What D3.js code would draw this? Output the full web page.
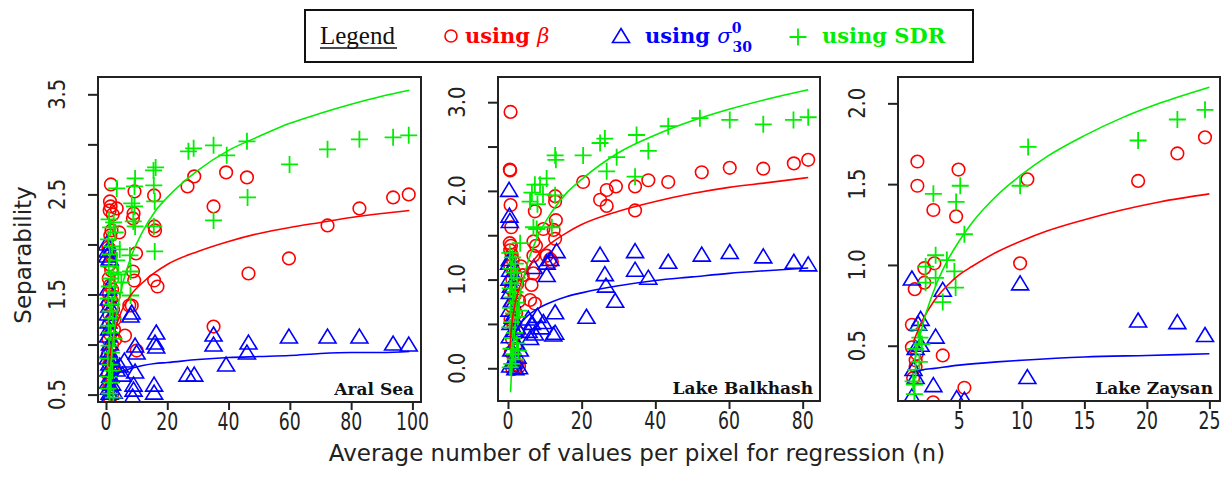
<!DOCTYPE html>
<html>
<head>
<meta charset="utf-8">
<script src="https://cdn.jsdelivr.net/npm/d3@7"></script>
<style>
  html, body { margin: 0; padding: 0; background: #fff; }
  svg { display: block; }
</style>
</head>
<body>
<svg id="chart" width="1228" height="491"></svg>
<script>
// ---------------- DATA ----------------
// Aral Sea
const aralXTicks = [0, 20, 40, 60, 80, 100];
const aralYTicks = [0.5, 1.0, 1.5, 2.0, 2.5, 3.0, 3.5];
const aralYLabels = [0.5, 1.5, 2.5, 3.5];
const aralBeta = [
  [26.6,2.58],[28.8,2.68],[39.2,2.72],[46,2.67],[35.1,2.38],[35.1,1.18],[46.5,1.71],[59.7,1.86],[72.3,2.19],[82.7,2.36],[93.7,2.47],[98.8,2.50],
  [9.3,2.53],[9.0,2.31],[8.8,2.26],[15.7,2.49],[15.8,2.18],[16.0,2.14],[15.7,1.64],[16.8,1.58],[9.8,1.91],[8.8,1.73],[9.2,1.64],[8.4,1.39],[6.2,1.09],[10,0.94],[3.5,2.36],[4.3,2.12],[7.6,1.39],
  [1.6,2.60],[1.3,2.43],[1.5,2.38],[1.2,2.34],[2.2,2.30],[1.8,2.14],[1.4,2.09],[0.8,1.97],[1.0,1.94],[1.5,1.89],[1.2,1.80],[1.7,1.74],[0.9,1.66],[1.3,1.59],[2.0,1.55],[1.0,1.50],[1.6,1.45],[0.7,1.40],[2.3,1.35],[1.1,1.30],[1.8,1.25],[0.9,1.20],[2.6,1.15],[1.4,1.10],[0.8,1.05],[2.0,1.00],[1.2,0.95],[0.6,0.90],[1.7,0.85],[1.0,0.80],[2.2,0.75],[0.7,0.70],[1.5,0.65],[1.1,0.60],[0.9,0.55],[2.0,0.50],[1.3,0.46],[3.0,1.05],[2.8,1.25],[2.5,1.48]
];
const aralSigma = [
  [8.4,1.31],[9.5,0.98],[10,0.91],[16.4,1.11],[16.0,1.01],[16.4,0.97],[35.1,1.09],[35.1,0.99],[46.5,1.01],[46,0.91],[59.7,1.07],[72.3,1.07],[82.7,1.07],[93.7,1.00],[98.8,0.99],[39.2,0.79],[26.6,0.69],[28.8,0.69],[15.7,0.59],[15.7,0.51],[9.5,0.72],[9.0,0.59],[9.0,0.54],[8.7,0.47],[5.4,0.69],[8.0,1.28],[4.5,0.78],[6.0,0.83],[3.5,0.74],
  [0.3,2.00],[0.5,1.93],[0.4,1.88],[1.2,1.85],[0.7,1.55],[0.9,1.45],[1.1,1.38],[0.6,1.30],[0.8,1.22],[1.0,1.15],[0.7,1.08],[1.3,1.00],[0.9,0.93],[0.6,0.86],[1.1,0.80],[0.8,0.74],[1.4,0.68],[0.7,0.62],[1.0,0.56],[1.2,0.51],[0.9,0.46],[2.0,0.60],[2.5,0.52],[1.8,0.85]
];
const aralSDR = [
  [26.9,2.93],[28.6,2.96],[35.1,2.99],[39.4,2.89],[46,3.03],[46.2,2.47],[35.1,2.24],[59.9,2.80],[72.3,2.95],[82.7,3.05],[93.7,3.07],[98.8,3.09],
  [15.5,2.74],[16.2,2.77],[15.6,2.59],[15.9,2.43],[15.6,2.18],[15.9,1.93],[9.5,2.66],[9.3,2.58],[9.3,2.38],[9.5,2.18],[3.5,2.56],[8.4,2.41],[8.9,2.23],[7.8,1.89],[8.0,1.73],[8.0,1.49],
  [1.0,2.25],[2.5,2.22],[1.5,2.17],[3.0,2.12],[0.8,2.05],[2.0,1.98],[1.2,1.90],[3.5,1.84],[0.9,1.78],[2.4,1.72],[1.6,1.66],[4.0,1.70],[1.1,1.58],[2.8,1.52],[0.7,1.46],[1.9,1.40],[1.3,1.33],[2.2,1.26],[0.8,1.19],[1.5,1.12],[2.6,1.06],[1.0,0.99],[1.8,0.92],[0.6,0.86],[1.3,0.80],[2.1,0.74],[0.9,0.68],[1.6,0.62],[0.7,0.56],[1.2,0.51],[2.4,0.47],[5.0,1.62],[4.5,1.95]
];
const aralFitBeta  = [[1,0.78],[1.5,0.92],[2,1.01],[3,1.15],[5,1.33],[8,1.49],[12,1.62],[16,1.72],[20,1.80],[30,1.93],[40,2.03],[50,2.11],[60,2.17],[70,2.22],[80,2.27],[90,2.31],[99,2.34]];
const aralFitSigma = [[2.5,0.68],[3,0.70],[5,0.73],[8,0.76],[12,0.79],[16,0.81],[20,0.82],[30,0.85],[40,0.87],[50,0.88],[60,0.89],[70,0.91],[80,0.92],[90,0.92],[99,0.93]];
const aralFitSDR   = [[1,0.48],[1.5,0.75],[2,0.94],[3,1.21],[5,1.55],[8,1.86],[12,2.13],[16,2.33],[20,2.47],[30,2.74],[40,2.94],[50,3.08],[60,3.21],[70,3.31],[80,3.40],[90,3.48],[99,3.54]];

// Lake Balkhash
const balkXTicks = [0, 20, 40, 60, 80];
const balkYTicks = [0.0, 0.5, 1.0, 1.5, 2.0, 2.5, 3.0];
const balkYLabels = [0.0, 1.0, 2.0, 3.0];
const balkBeta = [
  [20.4,2.10],[25.0,1.90],[26.8,2.01],[26.8,1.83],[29.3,2.05],[34.5,2.05],[38.1,2.12],[43.5,2.10],[34.5,1.78],[52.6,2.21],[60.2,2.26],[69.3,2.25],[77.6,2.31],[81.5,2.35],
  [7.3,1.77],[9.6,1.57],[12.8,1.94],[12.8,1.88],[13.0,1.67],[12.8,1.46],[12.4,1.56],[6.9,1.43],[6.9,1.27],[10.5,1.27],[11.9,1.20],[6.4,0.94],[6.0,0.77],[7.3,0.73],[6.9,1.07],[7.6,1.38],[11.5,1.23],
  [0.7,2.89],[0.5,2.24],[0.6,2.23],[0.7,1.84],[0.9,1.59],[0.5,1.41],[0.6,1.33],[0.8,1.38],[1.0,1.28],[1.3,1.22],[0.6,1.15],[1.5,1.10],[2.0,1.05],[1.2,1.00],[2.5,0.95],[0.8,0.90],[1.8,0.82],[3.0,0.76],[1.0,0.70],[2.2,0.62],[0.7,0.55],[1.5,0.48],[2.8,0.40],[1.1,0.33],[2.0,0.25],[0.8,0.18],[1.6,0.10],[2.4,0.04],[1.2,-0.01],[3.0,0.02],[2.0,0.0],[3.5,1.15],[4.0,1.05]
];
const balkSigma = [
  [13.2,1.31],[25.0,1.27],[34.5,1.31],[34.5,1.10],[26.3,1.05],[26.6,0.92],[29.1,0.75],[38.1,1.01],[43.5,1.19],[52.6,1.27],[60.2,1.30],[69.3,1.25],[77.6,1.19],[81.5,1.16],[21.3,0.57],[12.8,0.62],[12.3,0.37],[12.8,0.39],[10.5,1.04],[9.6,0.51],[7.3,0.38],[5.6,0.41],[10.5,1.18],[11.5,1.22],[8.0,0.58],[6.5,0.50],[7.0,1.13],[9.0,0.45],[5.5,0.55],[6.0,0.33],
  [0.3,2.00],[0.4,1.71],[0.5,1.65],[0.3,1.18],[0.5,1.22],[0.6,1.10],[0.4,1.00],[0.8,0.92],[0.5,0.85],[1.0,0.75],[0.4,0.65],[1.3,0.57],[0.7,0.50],[1.8,0.42],[0.5,0.35],[2.2,0.28],[0.9,0.20],[2.6,0.12],[1.4,0.06],[3.0,0.0],[0.6,0.02],[2.0,-0.01],[3.2,0.2],[2.5,0.45]
];
const balkSDR = [
  [20.4,2.40],[25.0,2.54],[26.3,2.59],[29.5,2.38],[26.8,2.22],[34.9,2.63],[34.5,2.16],[38.1,2.45],[43.5,2.73],[52.1,2.82],[60.2,2.80],[69.3,2.75],[77.5,2.80],[81.5,2.83],
  [12.8,2.40],[13.0,2.35],[12.8,1.95],[10.5,2.14],[8.7,2.07],[7.3,2.07],[6.0,1.88],[6.9,1.59],[7.8,1.57],[11.9,1.59],[3.3,1.41],[6.5,1.98],[8.0,1.85],[9.5,1.96],
  [0.5,1.30],[1.2,1.25],[2.0,1.18],[0.8,1.12],[1.6,1.08],[2.5,1.02],[1.0,0.96],[0.6,0.90],[1.9,0.86],[1.3,0.80],[2.2,0.74],[0.7,0.68],[1.5,0.62],[2.7,0.58],[1.0,0.52],[0.5,0.46],[1.8,0.40],[1.2,0.34],[2.4,0.28],[0.8,0.22],[1.5,0.16],[2.0,0.10],[1.0,0.05],[0.6,0.01],[2.8,0.20],[3.0,0.65]
];
const balkFitBeta  = [[0.5,0.22],[1,0.48],[2,0.74],[3,0.90],[5,1.09],[8,1.27],[12,1.42],[16,1.53],[20,1.62],[30,1.77],[40,1.88],[50,1.97],[60,2.04],[70,2.09],[81.5,2.15]];
const balkFitSigma = [[1.3,0.31],[2,0.40],[3,0.48],[5,0.58],[8,0.67],[12,0.75],[16,0.81],[20,0.85],[30,0.93],[40,0.99],[50,1.03],[60,1.07],[70,1.10],[81.5,1.13]];
const balkFitSDR   = [[0.7,-0.27],[1,-0.01],[1.5,0.28],[2,0.49],[3,0.78],[5,1.14],[8,1.48],[12,1.77],[16,1.98],[20,2.13],[30,2.43],[40,2.63],[50,2.79],[60,2.92],[70,3.03],[81.5,3.14]];

// Lake Zaysan
const zayXTicks = [5, 10, 15, 20, 25];
const zayYTicks = [0.5, 1.0, 1.5, 2.0];
const zayYLabels = [0.5, 1.0, 1.5, 2.0];
const zayBeta = [
  [1.64,1.64],[1.64,1.49],[2.92,1.34],[4.74,1.30],[4.93,1.59],[3.0,1.01],[2.2,0.98],[2.2,0.89],[1.43,0.85],[1.2,0.63],[1.2,0.49],[1.6,0.45],[1.5,0.41],[1.5,0.37],[3.67,0.44],[5.4,0.24],[2.9,0.15],[9.86,1.01],[10.44,1.53],[19.3,1.52],[22.44,1.69],[24.65,1.79],[1.3,0.30]
];
const zaySigma = [
  [1.2,0.91],[3.67,0.84],[9.86,0.88],[1.9,0.66],[1.7,0.63],[3.1,0.55],[1.9,0.50],[1.5,0.48],[19.3,0.65],[22.44,0.64],[24.65,0.56],[10.44,0.30],[2.92,0.25],[1.33,0.35],[1.5,0.30],[1.2,0.18],[4.79,0.17],[5.4,0.16]
];
const zaySDR = [
  [2.92,1.44],[4.74,1.39],[5.07,1.49],[5.4,1.19],[9.86,1.49],[10.5,1.73],[19.3,1.77],[22.44,1.90],[24.65,1.96],[3.1,1.06],[4.0,1.03],[4.6,0.96],[4.7,0.86],[3.67,0.77],[2.3,0.99],[3.1,0.92],[2.3,0.89],[1.84,0.55],[2.0,0.51],[1.5,0.48],[1.3,0.28],[1.4,0.26],[1.4,0.20],[1.7,0.60],[1.5,0.35],[1.8,0.40]
];
const zayFitBeta  = [[1.3,0.52],[2,0.65],[3,0.78],[4,0.87],[5,0.94],[6,0.99],[8,1.08],[10,1.15],[12,1.21],[15,1.28],[18,1.34],[21,1.39],[25,1.44]];
const zayFitSigma = [[1.5,0.34],[2,0.35],[3,0.36],[5,0.38],[8,0.40],[10,0.41],[15,0.43],[20,0.44],[25,0.45]];
const zayFitSDR   = [[1.4,0.40],[2,0.61],[3,0.85],[4,1.02],[5,1.15],[6,1.26],[8,1.43],[10,1.56],[12,1.67],[15,1.80],[18,1.91],[21,2.00],[25,2.10]];

const panelNames = ["Aral Sea", "Lake Balkhash", "Lake Zaysan"];
const xTitle = "Average number of values per pixel for regression (n)";
const yTitle = "Separability";

// ---------------- DRAWING ----------------
const RED = "#ff0000", BLUE = "#0000ff", GREEN = "#00ee00";
const svg = d3.select("#chart");

const panels = [
  { name: panelNames[0], box: {l: 98, t: 77, r: 421, b: 402}, xDom: [-2.61, 102.8], yDom: [0.426, 3.673],
    beta: aralBeta, sigma: aralSigma, sdr: aralSDR, fb: aralFitBeta, fs: aralFitSigma, fd: aralFitSDR,
    xTicks: aralXTicks, yTicks: aralYTicks, yLabels: aralYLabels },
  { name: panelNames[1], box: {l: 498, t: 77, r: 820, b: 401}, xDom: [-2.71, 84.7], yDom: [-0.369, 3.284],
    beta: balkBeta, sigma: balkSigma, sdr: balkSDR, fb: balkFitBeta, fs: balkFitSigma, fd: balkFitSDR,
    xTicks: balkXTicks, yTicks: balkYTicks, yLabels: balkYLabels },
  { name: panelNames[2], box: {l: 898, t: 77, r: 1220, b: 401}, xDom: [0.09, 25.85], yDom: [0.158, 2.163],
    beta: zayBeta, sigma: zaySigma, sdr: zaySDR, fb: zayFitBeta, fs: zayFitSigma, fd: zayFitSDR,
    xTicks: zayXTicks, yTicks: zayYTicks, yLabels: zayYLabels }
];

const triPath = "M0,-8.5L8.5,5.5L-8.5,5.5Z";
const plusPath = "M-8.5,0H8.5M0,-8.5V8.5";
const tickFont = "'DejaVu Sans', sans-serif";

panels.forEach((p, i) => {
  const x = d3.scaleLinear().domain(p.xDom).range([p.box.l, p.box.r]);
  const y = d3.scaleLinear().domain(p.yDom).range([p.box.b, p.box.t]);
  const g = svg.append("g");

  const clipId = "clip" + i;
  svg.append("defs").append("clipPath").attr("id", clipId)
    .append("rect").attr("x", p.box.l).attr("y", p.box.t)
    .attr("width", p.box.r - p.box.l).attr("height", p.box.b - p.box.t);

  const plot = g.append("g").attr("clip-path", `url(#${clipId})`);

  // points
  plot.append("g").selectAll("circle").data(p.beta).join("circle")
    .attr("cx", d => x(d[0])).attr("cy", d => y(d[1])).attr("r", 6.3)
    .attr("fill", "none").attr("stroke", RED).attr("stroke-width", 1.6);
  plot.append("g").selectAll("path").data(p.sigma).join("path")
    .attr("d", triPath).attr("transform", d => `translate(${x(d[0])},${y(d[1])})`)
    .attr("fill", "none").attr("stroke", BLUE).attr("stroke-width", 1.6);
  plot.append("g").selectAll("path").data(p.sdr).join("path")
    .attr("d", plusPath).attr("transform", d => `translate(${x(d[0])},${y(d[1])})`)
    .attr("fill", "none").attr("stroke", GREEN).attr("stroke-width", 1.8);

  // fitted curves
  const line = d3.line().x(d => x(d[0])).y(d => y(d[1])).curve(d3.curveMonotoneX);
  [[p.fb, RED], [p.fs, BLUE], [p.fd, GREEN]].forEach(([data, c]) => {
    plot.append("path").datum(data).attr("d", line)
      .attr("fill", "none").attr("stroke", c).attr("stroke-width", 1.6);
  });

  // box
  g.append("rect").attr("x", p.box.l).attr("y", p.box.t)
    .attr("width", p.box.r - p.box.l).attr("height", p.box.b - p.box.t)
    .attr("fill", "none").attr("stroke", "#222").attr("stroke-width", 2);

  // y axis
  const yAx = d3.axisLeft(y).tickValues(p.yTicks).tickSize(10).tickFormat("");
  const ya = g.append("g").attr("transform", `translate(${p.box.l},0)`).call(yAx);
  ya.select(".domain").remove();
  ya.selectAll(".tick line").attr("stroke", "#222").attr("stroke-width", 2);
  g.append("g").selectAll("text").data(p.yLabels).join("text")
    .attr("transform", d => `translate(${p.box.l - 33},${y(d)}) rotate(-90) scale(0.85,1)`)
    .attr("text-anchor", "middle")
    .attr("font-family", tickFont).attr("font-size", 23).attr("fill", "#222")
    .text(d => d3.format(".1f")(d));

  // x axis
  const xAx = d3.axisBottom(x).tickValues(p.xTicks).tickSize(8).tickFormat("");
  const xa = g.append("g").attr("transform", `translate(0,${p.box.b})`).call(xAx);
  xa.select(".domain").remove();
  xa.selectAll(".tick line").attr("stroke", "#222").attr("stroke-width", 2);
  g.append("g").selectAll("text").data(p.xTicks).join("text")
    .attr("transform", d => `translate(${x(d)},${p.box.b + 28}) scale(0.72,1)`)
    .attr("text-anchor", "middle")
    .attr("font-family", tickFont).attr("font-size", 24).attr("fill", "#222")
    .text(d => d);

  // panel name
  g.append("text")
    .attr("x", p.box.r - 7).attr("y", p.box.b - 7)
    .attr("text-anchor", "end")
    .attr("font-family", "'DejaVu Serif', serif").attr("font-weight", "bold")
    .attr("font-size", 17).attr("fill", "#111")
    .text(p.name);
});

// axis titles
svg.append("text")
  .attr("x", 637).attr("y", 461)
  .attr("text-anchor", "middle")
  .attr("font-family", tickFont).attr("font-size", 23).attr("fill", "#222")
  .text(xTitle);
svg.append("text")
  .attr("transform", "translate(31,255) rotate(-90)")
  .attr("text-anchor", "middle")
  .attr("font-family", tickFont).attr("font-size", 23).attr("fill", "#222")
  .text(yTitle);

// legend
const lg = svg.append("g");
lg.append("rect").attr("x", 305).attr("y", 10).attr("width", 668).attr("height", 52)
  .attr("fill", "#fff").attr("stroke", "#111").attr("stroke-width", 2);
lg.append("text").attr("x", 320).attr("y", 44)
  .attr("font-family", "'Liberation Serif', serif").attr("font-size", 25).attr("fill", "#111")
  .text("Legend");
lg.append("line").attr("x1", 320).attr("x2", 397).attr("y1", 48).attr("y2", 48)
  .attr("stroke", "#111").attr("stroke-width", 1.5);

lg.append("circle").attr("cx", 451).attr("cy", 36).attr("r", 6).attr("fill", "none")
  .attr("stroke", RED).attr("stroke-width", 1.6);
const t1 = lg.append("text").attr("x", 465).attr("y", 43)
  .attr("font-family", "'DejaVu Serif', serif").attr("font-size", 21).attr("font-weight", "bold").attr("fill", RED);
t1.append("tspan").text("using ");
t1.append("tspan").attr("font-weight", "normal").attr("font-style", "italic").text("β");

lg.append("path").attr("d", triPath).attr("transform", "translate(621,37)")
  .attr("fill", "none").attr("stroke", BLUE).attr("stroke-width", 1.6);
const t2 = lg.append("text").attr("x", 645).attr("y", 43)
  .attr("font-family", "'DejaVu Serif', serif").attr("font-size", 21).attr("font-weight", "bold").attr("fill", BLUE);
t2.append("tspan").text("using ");
t2.append("tspan").attr("font-weight", "normal").attr("font-style", "italic").text("σ");
t2.append("tspan").attr("font-size", 14).attr("dy", -10).text("0");
t2.append("tspan").attr("font-size", 14).attr("dx", -9).attr("dy", 19).text("30");

lg.append("path").attr("d", plusPath).attr("transform", "translate(798,37)")
  .attr("fill", "none").attr("stroke", GREEN).attr("stroke-width", 1.8);
lg.append("text").attr("x", 822).attr("y", 43)
  .attr("font-family", "'DejaVu Serif', serif").attr("font-size", 21).attr("font-weight", "bold").attr("fill", GREEN)
  .text("using SDR");
</script>
</body>
</html>
